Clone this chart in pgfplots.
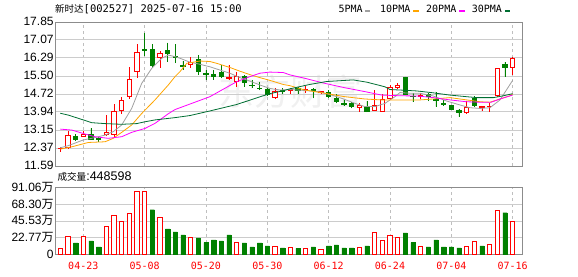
\documentclass[border=0pt]{standalone}
\usepackage{fontspec}
\setmainfont{Liberation Sans}
\newfontfamily\cjk{Noto Sans CJK SC}
\newfontfamily\mono{DejaVu Sans Mono}
\usepackage{pgfplots}
\pgfplotsset{compat=1.18}
\usepgfplotslibrary{statistics}
\definecolor{cred}{RGB}{255,0,0}
\definecolor{cgrn}{RGB}{0,128,0}
\definecolor{ma5}{RGB}{160,160,160}
\definecolor{ma10}{RGB}{255,165,0}
\definecolor{ma20}{RGB}{255,0,255}
\definecolor{ma30}{RGB}{0,110,50}
% candle: index, low, body bottom, body top, high
\newcommand\cU[5]{\addplot[draw=cred, fill=white, line width=0.9pt, forget plot, boxplot prepared={draw position=#1, lower whisker=#2, lower quartile=#3, median=#3, upper quartile=#4, upper whisker=#5}] coordinates {};}
\newcommand\cF[5]{\addplot[draw=cred, fill=cred, line width=0.9pt, forget plot, boxplot prepared={draw position=#1, lower whisker=#2, lower quartile=#3, median=#3, upper quartile=#4, upper whisker=#5}] coordinates {};}
\newcommand\cD[5]{\addplot[draw=cgrn, fill=cgrn, line width=0.9pt, forget plot, boxplot prepared={draw position=#1, lower whisker=#2, lower quartile=#3, median=#3, upper quartile=#4, upper whisker=#5}] coordinates {};}
\pgfplotsset{base/.style={scale only axis, width=467pt, xmin=-0.652, xmax=60.26,
  axis line style={draw=black!45}, major tick length=0pt, tick style={draw=none},
  xtick={3,11,19,27,35,43,51,59}, xmajorgrids, ymajorgrids,
  x grid style={draw=black!25, dash pattern=on 3pt off 3pt},
  y grid style={draw=black!20},
  yticklabel style={font=\fontsize{12}{12}\selectfont, inner sep=1.5pt, text=black},
  /pgf/number format/assume math mode=true}}
\begin{document}
\begin{tikzpicture}[x=1pt,y=1pt]
\useasboundingbox (0,0) rectangle (578,276);
\node[text=black!6, font=\cjk\fontsize{36}{36}\selectfont, inner sep=0pt] at (290,184) {东方财富};
\node[anchor=base west, inner sep=0pt] at (55,263.3) {{\cjk\fontsize{9.5}{10}\selectfont 新时达}{\mono\fontsize{10.5}{11}\selectfont [002527] 2025-07-16 15:00}};
\node[anchor=base west, inner sep=0pt, font=\mono\fontsize{10}{10}\selectfont] at (338.3,263.7) {5PMA\hspace{2.3pt}\textcolor{ma5}{\rule{5.3pt}{2.7pt}}};
\node[anchor=base west, inner sep=0pt, font=\mono\fontsize{10}{10}\selectfont] at (380,263.7) {10PMA\hspace{3pt}\textcolor{ma10}{\rule{5.3pt}{2.7pt}}};
\node[anchor=base west, inner sep=0pt, font=\mono\fontsize{10}{10}\selectfont] at (426,263.7) {20PMA\hspace{3pt}\textcolor{ma20}{\rule{5.3pt}{2.7pt}}};
\node[anchor=base west, inner sep=0pt, font=\mono\fontsize{10}{10}\selectfont] at (471.7,263.7) {30PMA\hspace{3pt}\textcolor{ma30}{\rule{5.3pt}{2.7pt}}};
\node[anchor=base west, inner sep=0pt] at (57.3,95.3) {{\cjk\fontsize{9.6}{10}\selectfont 成交量}{\fontsize{12.5}{13}\selectfont :448598}};

\begin{axis}[base, at={(55.3pt,110.3pt)}, anchor=south west, height=144pt,
  ymin=11.59, ymax=17.85,
  ytick={11.59,12.37,13.15,13.94,14.72,15.50,16.29,17.07,17.85},
  yticklabels={11.59,12.37,13.15,13.94,14.72,15.50,16.29,17.07,17.85},
  xticklabels={},
  boxplot/draw direction=y, boxplot/box extend=0.6, boxplot/whisker extend=0]
\cU{0}{12.17}{12.34}{12.36}{12.41}
\cU{1}{12.30}{12.38}{12.90}{13.12}
\cD{2}{12.68}{12.74}{12.88}{12.96}
\cU{3}{12.84}{12.87}{12.97}{13.10}
\cD{4}{12.71}{12.75}{12.96}{13.21}
\cD{5}{12.63}{12.74}{12.76}{12.85}
\cU{6}{12.92}{12.94}{13.03}{13.79}
\cU{7}{12.85}{12.96}{13.97}{14.26}
\cU{8}{13.82}{13.99}{14.43}{14.59}
\cU{9}{14.49}{14.59}{15.32}{15.89}
\cU{10}{15.39}{15.68}{16.52}{16.87}
\cD{11}{16.36}{16.60}{16.66}{17.37}
\cD{12}{15.83}{15.94}{16.66}{16.88}
\cU{13}{15.85}{16.28}{16.47}{16.59}
\cD{14}{16.11}{16.45}{16.58}{16.94}
\cD{15}{16.05}{16.31}{16.36}{16.88}
\cD{16}{15.75}{15.92}{15.96}{16.14}
\cU{17}{15.82}{15.97}{16.08}{16.33}
\cD{18}{15.53}{15.68}{16.22}{16.40}
\cD{19}{15.32}{15.55}{15.58}{15.75}
\cD{20}{15.32}{15.46}{15.56}{15.75}
\cD{21}{15.39}{15.46}{15.63}{15.97}
\cF{22}{15.32}{15.37}{15.41}{15.97}
\cU{23}{15.02}{15.24}{15.46}{15.68}
\cD{24}{15.02}{15.22}{15.46}{15.53}
\cD{25}{14.95}{15.06}{15.08}{15.32}
\cD{26}{14.88}{14.94}{14.96}{15.24}
\cD{27}{14.63}{14.69}{14.91}{14.95}
\cU{28}{14.49}{14.55}{14.81}{14.95}
\cD{29}{14.71}{14.83}{14.85}{14.95}
\cU{30}{14.69}{14.86}{14.89}{14.98}
\cD{31}{14.69}{14.84}{14.95}{15.02}
\cU{32}{14.74}{14.89}{14.92}{15.05}
\cD{33}{14.52}{14.87}{14.89}{14.95}
\cF{34}{14.69}{14.76}{14.80}{14.85}
\cD{35}{14.55}{14.62}{14.76}{14.88}
\cD{36}{14.30}{14.37}{14.52}{14.69}
\cD{37}{14.18}{14.26}{14.28}{14.45}
\cD{38}{14.08}{14.16}{14.29}{14.35}
\cU{39}{13.94}{14.13}{14.23}{14.30}
\cD{40}{13.92}{13.97}{14.16}{14.40}
\cU{41}{13.97}{14.01}{14.19}{14.88}
\cU{42}{13.92}{13.97}{14.49}{14.69}
\cU{43}{14.45}{14.52}{14.99}{15.10}
\cU{44}{14.92}{14.99}{15.10}{15.17}
\cD{45}{14.66}{14.69}{15.42}{15.46}
\cD{46}{14.37}{14.58}{14.61}{14.74}
\cU{47}{14.49}{14.60}{14.63}{14.74}
\cD{48}{14.40}{14.59}{14.69}{14.74}
\cD{49}{14.16}{14.44}{14.46}{14.81}
\cD{50}{14.20}{14.26}{14.28}{14.45}
\cD{51}{14.01}{14.05}{14.19}{14.23}
\cD{52}{13.72}{13.91}{14.01}{14.05}
\cU{53}{13.83}{13.89}{14.11}{14.40}
\cD{54}{14.16}{14.20}{14.52}{14.62}
\cF{55}{13.97}{14.12}{14.17}{14.19}
\cU{56}{13.94}{14.15}{14.17}{14.30}
\cU{57}{14.59}{14.63}{15.83}{15.85}
\cD{58}{15.46}{15.85}{16.00}{16.09}
\cU{59}{15.53}{15.87}{16.26}{16.30}
% 5-day MA
\addplot[ma5, line width=0.8pt] coordinates {(0,12.37) (1.04,12.46) (3,12.71) (4.1,12.78) (5.83,12.92) (6.91,13.07) (8.01,13.36) (9.31,14.08) (10.62,15.17) (11.92,15.82) (13.23,16.26) (14.09,16.40) (14.96,16.33) (15.61,16.26) (16.91,16.09) (18.21,16.00) (19.51,15.89) (20.81,15.75) (22.12,15.61) (23.42,15.42) (24.72,15.27) (26.02,15.10) (27.33,14.95) (28.63,14.88) (29.93,14.90) (31.89,14.86) (33.65,14.81) (35.4,14.66) (36.7,14.52) (38.44,14.30) (39.74,14.16) (41.05,14.16) (42.35,14.30) (43.65,14.59) (44.3,14.77) (45.6,14.74) (46.92,14.74) (48.65,14.62) (50.4,14.40) (52.13,14.23) (53.44,14.11) (54.74,14.08) (56.04,14.11) (57.35,14.45) (59,15.30)};
% 10-day MA
\addplot[ma10, line width=0.8pt] coordinates {(0,12.31) (1.49,12.41) (3.65,12.60) (5.83,12.63) (6.91,12.78) (8.01,13.04) (9.31,13.36) (10.62,13.86) (12.35,14.45) (14.09,15.10) (14.96,15.46) (15.61,15.68) (16.49,16.04) (18.21,16.14) (19.51,16.12) (20.4,16.04) (22.12,15.86) (23.42,15.70) (24.72,15.55) (26.02,15.42) (27.33,15.30) (29.09,15.12) (29.93,15.07) (31.89,14.88) (34.5,14.74) (37.1,14.59) (39.74,14.49) (41.92,14.45) (44.3,14.45) (46.92,14.45) (48.65,14.49) (50.83,14.55) (53.0,14.45) (54.74,14.37) (56.04,14.35) (57.35,14.49) (58.65,14.63) (59,14.70)};
% 20-day MA
\addplot[ma20, line width=0.8pt] coordinates {(0,13.18) (1.49,13.14) (3,12.99) (4.53,12.85) (6.26,12.78) (8.01,12.85) (9.31,13.04) (11.05,13.21) (12.35,13.43) (14.09,13.85) (14.96,14.03) (19.51,14.59) (23.0,15.24) (24.72,15.46) (26.02,15.61) (27.33,15.66) (29.09,15.64) (29.93,15.54) (31.89,15.39) (34.5,15.17) (37.1,14.98) (39.74,14.81) (41.92,14.66) (44.3,14.63) (46.6,14.62) (48.65,14.55) (50.83,14.45) (53.0,14.37) (54.74,14.35) (56.2,14.35) (57.35,14.49) (59,14.66)};
% 30-day MA
\addplot[ma30, line width=0.8pt] coordinates {(0,13.87) (1.04,13.79) (3,13.58) (4.1,13.46) (5.83,13.42) (8.01,13.39) (9.96,13.42) (11.05,13.50) (12.35,13.58) (14.96,13.68) (16.91,13.77) (19.51,13.97) (23.0,14.25) (26.0,14.58) (27.3,14.72) (29.09,14.85) (29.93,14.93) (32.5,15.12) (34.75,15.25) (38.2,15.32) (40.0,15.22) (42.35,15.02) (43.0,14.90) (44.3,14.88) (46.5,14.84) (48.6,14.76) (50.8,14.66) (53.0,14.59) (54.3,14.55) (56.5,14.55) (57.8,14.63) (59,14.72)};
\end{axis}

\begin{axis}[base, at={(55.3pt,21.5pt)}, anchor=south west, height=67.3pt,
  ymin=0, ymax=91.06,
  ytick={0,22.77,45.53,68.30,91.06},
  yticklabels={0,22.77{\cjk 万},45.53{\cjk 万},68.30{\cjk 万},91.06{\cjk 万}},
  xticklabels={04-23,05-08,05-20,05-30,06-12,06-24,07-04,07-16},
  xticklabel style={font=\mono\fontsize{10}{10}\selectfont, text=cred, anchor=north, inner sep=0pt, yshift=-7pt}]
\addplot[ybar, bar width=0.57, bar shift=0pt, draw=cred, fill=white, line width=0.8pt] coordinates {(0,8.4) (1,24.2) (3,24.8) (6,38.4) (7,53.3) (8,45.2) (9,56.1) (10,86.0) (11,86.0) (13,50.6) (17,23.4) (23,16.6) (28,11.2) (30,9.8) (32,8.4) (34,7.1) (39,9.8) (41,30.2) (42,19.3) (43,26.5) (44,23.4) (47,11.2) (53,11.2) (54,18.0) (56,14.3) (57,60.1) (59,44.86)};
\addplot[ybar, bar width=0.57, bar shift=0pt, draw=cgrn, fill=cgrn] coordinates {(2,15.7) (4,18.4) (5,10.2) (12,60.6) (14,34.7) (15,30.6) (16,26.5) (18,22.5) (19,16.1) (20,19.7) (21,18.4) (22,26.5) (24,15.7) (25,10.2) (26,15.7) (27,11.6) (29,8.8) (31,8.4) (33,10.2) (35,11.6) (36,12.9) (37,8.8) (38,8.8) (40,11.6) (45,29.3) (46,16.1) (48,10.2) (49,19.7) (50,10.2) (51,10.2) (52,8.8) (55,11.6) (58,56.5)};
\end{axis}
\end{tikzpicture}
\end{document}
